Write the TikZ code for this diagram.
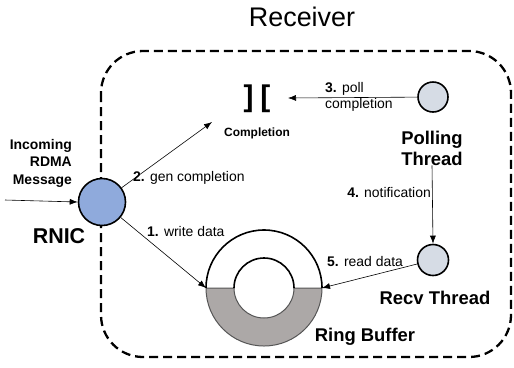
\documentclass[tikz,border=0pt]{standalone}
\usepackage{fontspec}
\setmainfont{Liberation Sans}
\usetikzlibrary{arrows.meta}

\definecolor{nicblue}{RGB}{143,170,220}
\definecolor{thrgray}{RGB}{214,220,229}
\definecolor{ringfill}{RGB}{172,168,167}
\definecolor{ringedge}{RGB}{85,85,85}

\begin{document}
\begin{tikzpicture}[x=1bp,y=-1bp,
  agent/.style={circle,draw,line width=1.6pt,inner sep=0pt},
  conn/.style={line width=0.6pt,-{Latex[length=8bp,width=6bp]}},
  lbl/.style={font=\fontsize{14}{15.5}\selectfont,inner sep=0pt},
  bigname/.style={font=\fontsize{18.5}{21}\selectfont\bfseries,inner sep=0pt}]
  \useasboundingbox (0,0) rectangle (514,367);

  \node[font=\fontsize{27}{30}\selectfont,inner sep=0pt] (title) at (302,17) {Receiver};

  % receiver boundary
  \draw[line width=2.3pt,dash pattern=on 9bp off 5bp,rounded corners=42bp]
    (101,51) rectangle (511,357);

  % ring buffer
  \coordinate (ring) at (264,288);
  \fill[ringfill] (206,288) arc[start angle=180,end angle=0,radius=58]
    -- (294,288) arc[start angle=0,end angle=180,radius=30] -- cycle;
  \draw[ringedge,line width=1pt] (206,288) arc[start angle=180,end angle=0,radius=58]
    -- (294,288) arc[start angle=0,end angle=180,radius=30] -- cycle;
  \draw[line width=1.6pt] (206,288) arc[start angle=180,end angle=360,radius=58];
  \draw[line width=1.6pt] (234,288) arc[start angle=180,end angle=360,radius=30];
  \coordinate (ringL) at (206,288);
  \coordinate (ringR) at (322,288);
  \node[bigname] (ringname) at (365,337) {Ring Buffer};

  % completion queue
  \node[font=\fontsize{30}{30}\selectfont,inner sep=0pt] (cq) at (257,99) {\textbf{]}\hspace{7bp}\textbf{[}};
  \node[font=\fontsize{12}{13}\selectfont\bfseries,inner sep=0pt] (cqname) at (257,133) {Completion};
  \coordinate (cqin) at (212,122);
  \coordinate (cqpoll) at (288,98);

  % nic
  \node[agent,fill=nicblue,minimum size=47bp] (rnic) at (102,202) {};
  \node[font=\fontsize{21.5}{24}\selectfont\bfseries,inner sep=0pt] (rnicname) at (59,236) {RNIC};
  \node[font=\fontsize{14}{17.5}\selectfont\bfseries,align=right,anchor=east,inner sep=0pt]
    (msg) at (72,163) {Incoming\\RDMA\\Message};
  \coordinate (wire) at (5,200);

  % threads
  \node[agent,fill=thrgray,minimum size=30bp] (poll) at (433,97) {};
  \node[bigname,align=center] (pollname) at (432,148) {Polling\\Thread};
  \node[agent,fill=thrgray,minimum size=31bp] (recv) at (433,260) {};
  \node[bigname] (recvname) at (435,298) {Recv Thread};

  % steps
  \draw[conn] (wire) -- (rnic.west);
  \draw[conn] (rnic) -- (ringL);
  \draw[conn] (rnic) -- (cqin);
  \draw[conn] (poll) -- (cqpoll);
  \draw[conn] (pollname.south) -- (recv.north);
  \draw[conn] (recv) -- (ringR);

  \node[lbl,anchor=west] at (147,232) {\textbf{1.} write data};
  \node[lbl,anchor=west] at (133,178) {\textbf{2.} gen completion};
  \node[lbl,anchor=west,align=left] at (325,97) {\textbf{3.} poll\\completion};
  \node[lbl,anchor=east] at (431,193) {\textbf{4.} notification};
  \node[lbl,anchor=west] at (327,262) {\textbf{5.} read data};
\end{tikzpicture}
\end{document}
